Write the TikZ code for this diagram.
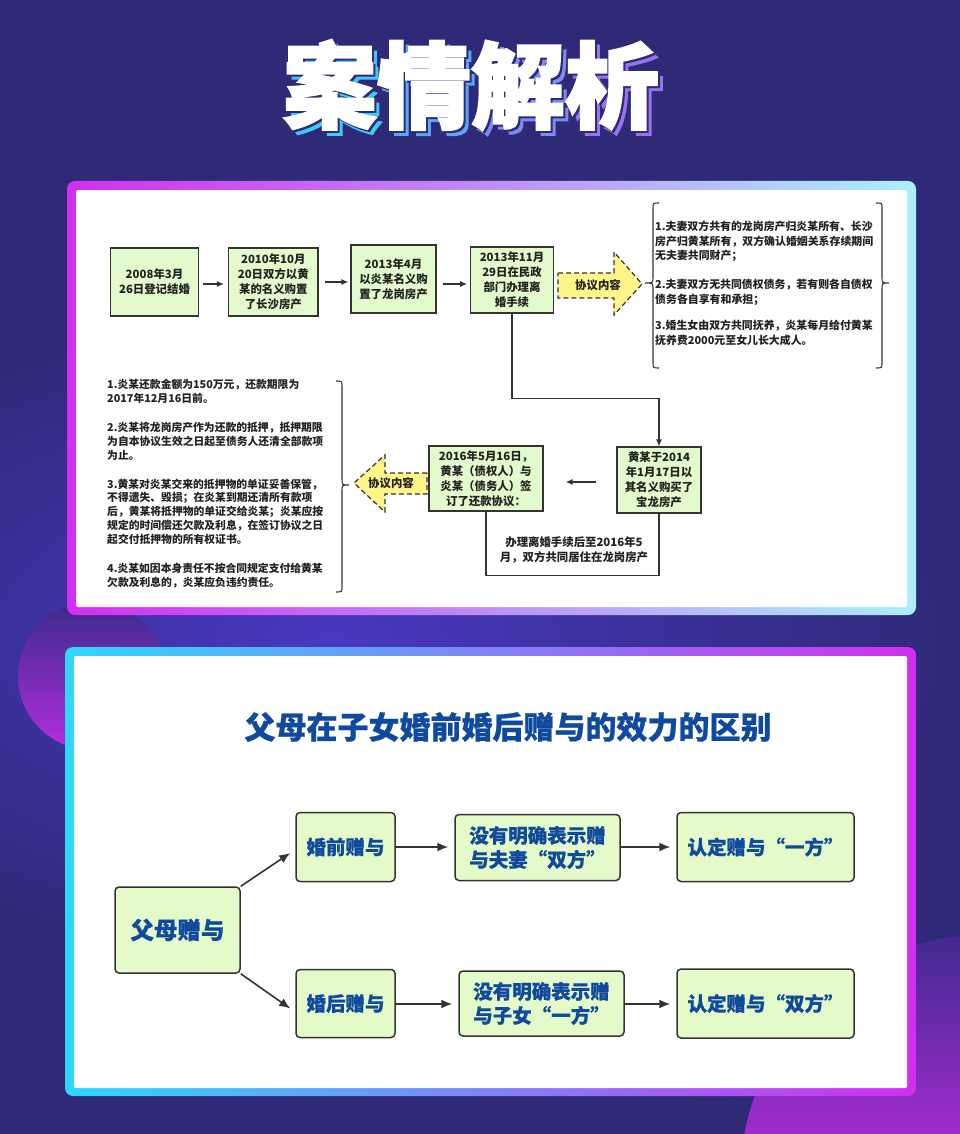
\documentclass[tikz,border=0pt]{standalone}
\usepackage{fontspec}
\newfontfamily\cjk{Noto Sans CJK SC}
\newfontfamily\cjkheavy{Noto Sans CJK SC}[BoldFeatures={FakeBold=2.2}]
\newfontfamily\cjkmid{Noto Sans CJK SC}[BoldFeatures={FakeBold=0.7}]
\usetikzlibrary{arrows.meta}
\definecolor{bgnavy}{HTML}{2E2A78}
\definecolor{glow}{HTML}{4838C0}
\definecolor{pmag}{HTML}{D22EF0}
\definecolor{pcyan}{HTML}{ACF0FB}
\definecolor{qcyan}{HTML}{2ED8FC}
\definecolor{tfill}{HTML}{E3FACC}
\definecolor{bfill}{HTML}{E4FBC9}
\definecolor{yfill}{HTML}{FFF68A}
\definecolor{tblue}{HTML}{0F4A9E}
\definecolor{ink}{HTML}{222222}
\definecolor{lin}{HTML}{333333}
\definecolor{sa}{HTML}{3CCBF8}
\definecolor{sb}{HTML}{58A8F8}
\definecolor{sc}{HTML}{7C8CF2}
\definecolor{sd}{HTML}{9A72EE}
\definecolor{ctop}{HTML}{3A2A88}
\definecolor{cbot}{HTML}{B42EE0}
\definecolor{rtop}{HTML}{3E2A8E}
\definecolor{rbot}{HTML}{A02CCC}
\tikzset{
 tbox/.style={draw=lin, line width=1.2pt, fill=tfill, text=ink, align=center, inner sep=0pt, font=\cjk\bfseries\fontsize{11.4}{15}\selectfont},
 ttext/.style={text=ink, align=left, inner sep=0pt, anchor=north west, font=\cjk\bfseries\fontsize{10.9}{14.6}\selectfont},
 tlab/.style={text=ink, align=center, inner sep=0pt, font=\cjk\bfseries\fontsize{11.4}{15}\selectfont},
 tarr/.style={draw=lin, line width=1.2pt, -{Latex[length=7pt,width=6pt]}},
 tline/.style={draw=lin, line width=1.2pt},
 brc/.style={draw=lin, line width=1.1pt},
 dasharrow/.style={draw=lin, line width=1.2pt, dash pattern=on 5pt off 3pt, fill=yfill},
 bbox/.style={draw=lin, line width=1.5pt, rounded corners=4pt, fill=bfill, text=tblue, align=center, inner sep=0pt, font=\cjkmid\bfseries\fontsize{19.5}{24}\selectfont},
 barr/.style={draw=lin, line width=1.6pt, -{Latex[length=11pt,width=9pt]}},
 ttl/.style={inner sep=0pt, font=\cjkheavy\bfseries\fontsize{94}{94}\selectfont},
}
\begin{document}
\begin{tikzpicture}[x=1pt,y=-1pt]
\useasboundingbox (0,0) rectangle (960,1134);
% background
\fill[bgnavy] (0,0) rectangle (960,1134);
\shade[inner color=glow, outer color=bgnavy] (330,640) ellipse (620 and 320);
\shade[top color=ctop, bottom color=cbot] (92,676) circle (74);
\begin{scope}
 \clip (985,1180) circle (245);
 \shade[top color=rtop, bottom color=rbot] (700,930) rectangle (960,1134);
\end{scope}

% title
\node[ttl] (tsh) at (476,90) {\color{sa}案\color{sb}情\color{sc}解\color{sd}析};
\node[ttl, text=bgnavy] (tdk) at (473,87) {案情解析};
\node[ttl, text=white] (tw) at (471,85) {案情解析};

% panels
\shade[left color=pmag, right color=pcyan, rounded corners=8pt] (67,181) rectangle (916,615);
\fill[white, rounded corners=2pt] (76,190) rectangle (907,607);
\shade[left color=qcyan, right color=pmag, rounded corners=8pt] (65,647) rectangle (916,1096);
\fill[white, rounded corners=2pt] (74,656) rectangle (907,1088);

% ---------- top panel ----------
\node[tbox, minimum width=88pt, minimum height=68pt] (b1) at (154.5,282) {2008年3月\\26日登记结婚};
\node[tbox, minimum width=89.5pt, minimum height=68pt] (b2) at (273.3,282) {2010年10月\\20日双方以黄\\某的名义购置\\了长沙房产};
\node[tbox, minimum width=85pt, minimum height=68pt] (b3) at (393.5,279) {2013年4月\\以炎某名义购\\置了龙岗房产};
\node[tbox, minimum width=82.5pt, minimum height=66pt] (b4) at (512,280) {2013年11月\\29日在民政\\部门办理离\\婚手续};
\node[tbox, minimum width=84pt, minimum height=66pt] (b5) at (659,480) {黄某于2014\\年1月17日以\\其名义购买了\\宝龙房产};
\node[tbox, minimum width=114pt, minimum height=65pt] (b6) at (486,478.5) {2016年5月16日，\\黄某（债权人）与\\炎某（债务人）签\\订了还款协议：};

\draw[tarr, shorten <=4pt, shorten >=4pt] (b1.east |- 0,284) -- (b2.west |- 0,284);
\draw[tarr, shorten <=6pt, shorten >=2pt] (b2.east |- 0,282) -- (b3.west |- 0,282);
\draw[tarr, shorten <=6pt, shorten >=3pt] (b3.east |- 0,284) -- (b4.west |- 0,284);
\draw[tarr] (b4.south) -- ++(0,85) -| (b5.north);
\draw[tarr, shorten <=20pt, shorten >=22pt] (b5.west |- 0,482) -- (b6.east |- 0,482);
\draw[tline] (b6.south) -- ++(0,64) -| (b5.south);
\node[tlab] (bt) at (574,550) {办理离婚手续后至2016年5\\月，双方共同居住在龙岗房产};

% dashed arrows
\draw[dasharrow] (558,273) -- (614,273) -- (614,252) -- (642,284) -- (614,315) -- (614,298) -- (558,298) -- cycle;
\node[tlab] (ag1) at (598,285) {协议内容};
\draw[dasharrow] (427,473) -- (385,473) -- (385,455) -- (354,483) -- (385,512) -- (385,494) -- (427,494) -- cycle;
\node[tlab] (ag2) at (391,483) {协议内容};

% braces
\draw[brc] (659,203) .. controls (653,203) .. (653,209) -- (653,277) .. controls (653,283) .. (645,283) .. controls (653,283) .. (653,289) -- (653,362) .. controls (653,368) .. (659,368);
\draw[brc] (876,203) .. controls (882,203) .. (882,209) -- (882,277) .. controls (882,283) .. (889,283) .. controls (882,283) .. (882,289) -- (882,362) .. controls (882,368) .. (876,368);
\draw[brc] (336,381) .. controls (342,381) .. (342,387) -- (342,479) .. controls (342,485) .. (349,485) .. controls (342,485) .. (342,491) -- (342,586) .. controls (342,592) .. (336,592);

% texts
\node[ttext] (rt) at (655,221) {1.夫妻双方共有的龙岗房产归炎某所有、长沙\\
房产归黄某所有，双方确认婚姻关系存续期间\\
无夫妻共同财产；\\[14pt]
2.夫妻双方无共同债权债务，若有则各自债权\\
债务各自享有和承担；\\[12pt]
3.婚生女由双方共同抚养，炎某每月给付黄某\\
抚养费2000元至女儿长大成人。};
\node[ttext, font=\cjk\bfseries\fontsize{10.8}{13.9}\selectfont] (lt) at (107,379) {1.炎某还款金额为150万元，还款期限为\\
2017年12月16日前。\\[15pt]
2.炎某将龙岗房产作为还款的抵押，抵押期限\\
为自本协议生效之日起至债务人还清全部款项\\
为止。\\[15pt]
3.黄某对炎某交来的抵押物的单证妥善保管，\\
不得遗失、毁损；在炎某到期还清所有款项\\
后，黄某将抵押物的单证交给炎某；炎某应按\\
规定的时间偿还欠款及利息，在签订协议之日\\
起交付抵押物的所有权证书。\\[15pt]
4.炎某如因本身责任不按合同规定支付给黄某\\
欠款及利息的，炎某应负违约责任。};

% ---------- bottom panel ----------
\node[inner sep=0pt, text=tblue, font=\cjkmid\bfseries\fontsize{31}{31}\selectfont] (bt2) at (508,727) {父母在子女婚前婚后赠与的效力的区别};

\node[bbox, minimum width=125pt, minimum height=86pt, font=\cjkmid\bfseries\fontsize{23.5}{28}\selectfont] (fm) at (177.5,930) {父母赠与};
\node[bbox, minimum width=99pt, minimum height=69pt] (hq) at (345.5,847) {婚前赠与};
\node[bbox, minimum width=165pt, minimum height=66pt, align=left] (m1) at (537.5,847.5) {没有明确表示赠\\与夫妻“双方”};
\node[bbox, minimum width=177pt, minimum height=69pt] (r1) at (765.5,847) {认定赠与“一方”};
\node[bbox, minimum width=99pt, minimum height=68pt] (hh) at (345.5,1003.5) {婚后赠与};
\node[bbox, minimum width=165pt, minimum height=65pt, align=left] (m2) at (541.5,1003.5) {没有明确表示赠\\与子女“一方”};
\node[bbox, minimum width=177pt, minimum height=69pt] (r2) at (765.5,1003.5) {认定赠与“双方”};

\draw[barr] (fm.north east) -- ([shift={(-5,6)}]hq.west);
\draw[barr] (fm.south east) -- ([shift={(-5,5)}]hh.west);
\draw[barr, shorten >=6pt] (hq.east |- 0,847) -- (m1.west |- 0,847);
\draw[barr, shorten >=6pt] (m1.east |- 0,847) -- (r1.west |- 0,847);
\draw[barr, shorten >=6pt] (hh.east |- 0,1004) -- (m2.west |- 0,1004);
\draw[barr, shorten >=6pt] (m2.east |- 0,1004) -- (r2.west |- 0,1004);
\end{tikzpicture}
\end{document}
